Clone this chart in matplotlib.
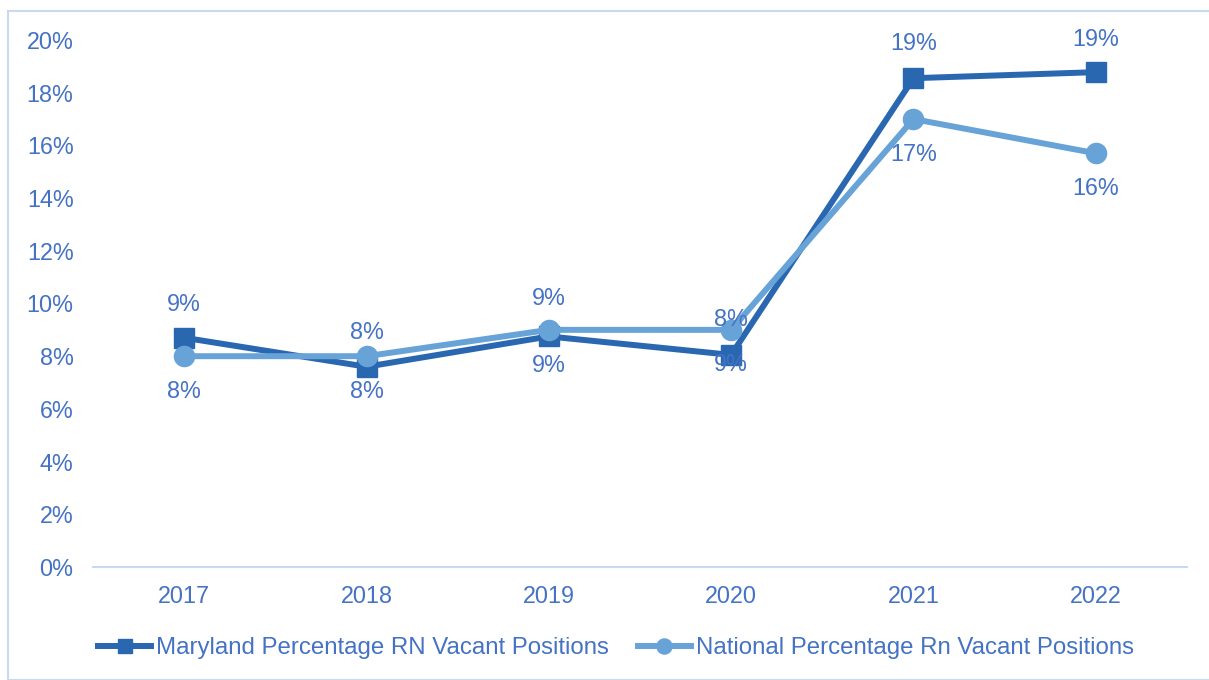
import matplotlib.pyplot as plt
from matplotlib.patches import Rectangle

years = ["2017", "2018", "2019", "2020", "2021", "2022"]
maryland = [0.087, 0.076, 0.0875, 0.0805, 0.1855, 0.1878]
national = [0.080, 0.080, 0.090, 0.090, 0.170, 0.157]
yticks = [0.00, 0.02, 0.04, 0.06, 0.08, 0.10, 0.12, 0.14, 0.16, 0.18, 0.20]

md_label_side = [1, -1, -1, 1, 1, 1]
nat_label_side = [-1, 1, 1, -1, -1, -1]
md_label_gap = [33, 25, 29, 35, 35, 33]
nat_label_gap = [35, 24, 31, 35, 35, 35]

MD_COLOR = "#2A67B1"
NAT_COLOR = "#68A3D8"
TEXT_COLOR = "#4472C4"
AXIS_COLOR = "#C9DAF0"
FS = 16.8
LEG_FS = 17.3

plt.rcParams["font.family"] = ["Liberation Sans", "DejaVu Sans"]

fig = plt.figure(figsize=(12.09, 6.80), dpi=100)
W, H = 1209, 680

# chart frame
fig.patches.append(Rectangle((8 / W, 0), 1.2, (H - 11) / H, transform=fig.transFigure,
                             fill=False, edgecolor=AXIS_COLOR, linewidth=1.5))

ax = fig.add_axes([93 / W, (H - 567) / H, (1187 - 93) / W, (567 - 40) / H])
x = list(range(len(years)))

ax.plot(x, maryland, color=MD_COLOR, linewidth=4.3, marker="s", markersize=14,
        label="Maryland Percentage RN Vacant Positions", zorder=3)
ax.plot(x, national, color=NAT_COLOR, linewidth=4.3, marker="o", markersize=14.5,
        label="National Percentage Rn Vacant Positions", zorder=4)

for i, v in enumerate(maryland):
    ax.annotate(f"{v:.0%}", (i, v), xytext=(0, md_label_side[i] * md_label_gap[i] * 0.72),
                textcoords="offset points", ha="center", va="center",
                fontsize=FS, color=TEXT_COLOR, zorder=5)
for i, v in enumerate(national):
    ax.annotate(f"{v:.0%}", (i, v), xytext=(0, nat_label_side[i] * nat_label_gap[i] * 0.72),
                textcoords="offset points", ha="center", va="center",
                fontsize=FS, color=TEXT_COLOR, zorder=5)

ax.set_xlim(-0.5, len(years) - 0.5)
ax.set_ylim(0, 0.20)
ax.set_xticks(x)
ax.set_xticklabels(years)
ax.set_yticks(yticks)
ax.set_yticklabels([f"{t:.0%}" for t in yticks])
ax.tick_params(axis="both", length=0, labelsize=FS, labelcolor=TEXT_COLOR)
ax.tick_params(axis="y", pad=14)
ax.tick_params(axis="x", pad=13)
for side in ("top", "right", "left"):
    ax.spines[side].set_visible(False)
ax.spines["bottom"].set_color(AXIS_COLOR)
ax.spines["bottom"].set_linewidth(1.5)

leg = fig.legend(loc="center", bbox_to_anchor=(616 / W, (H - 648) / H), ncol=2,
                 frameon=False, fontsize=LEG_FS, labelcolor=TEXT_COLOR,
                 handlelength=2.2, handletextpad=0.2, columnspacing=1.2,
                 markerscale=0.75)

fig.savefig("out.png", dpi=100)
